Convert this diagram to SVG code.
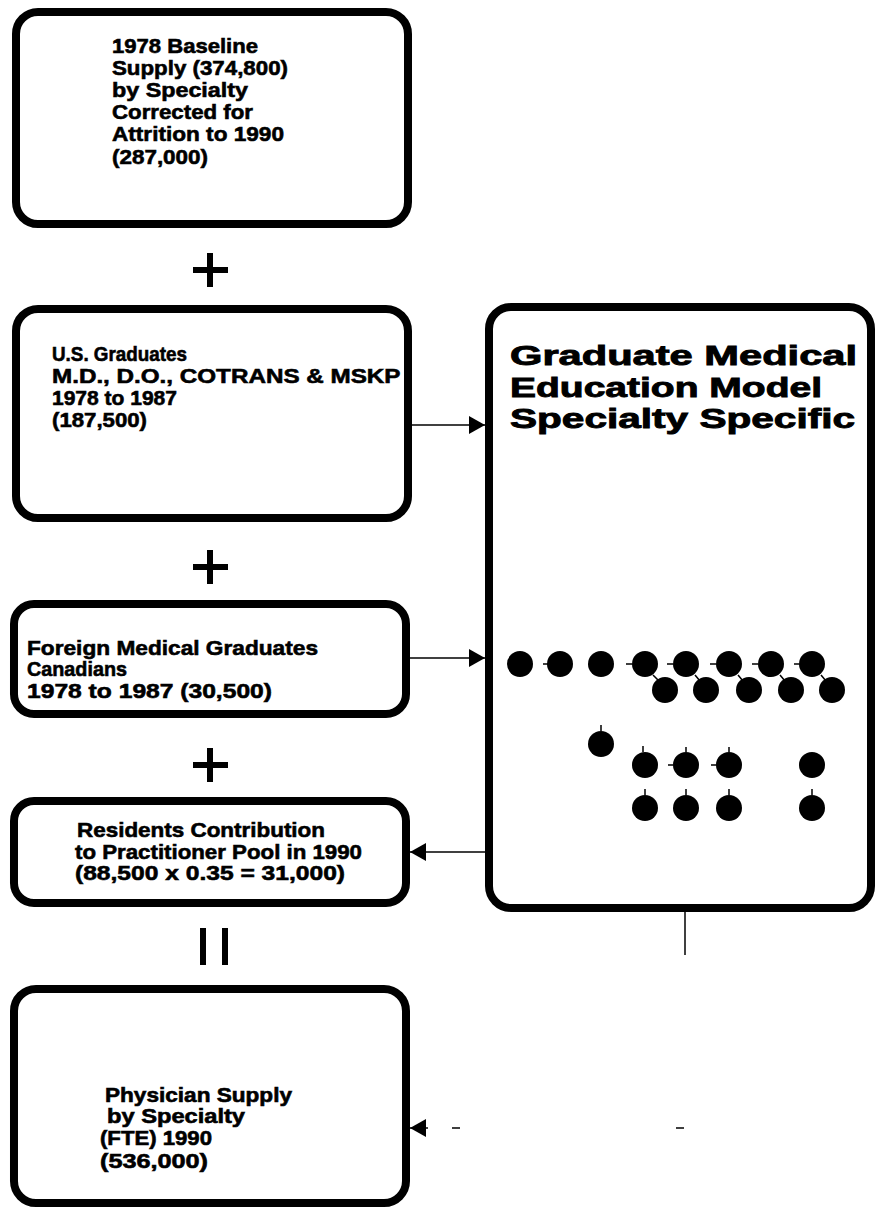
<svg xmlns="http://www.w3.org/2000/svg" width="876" height="1209" viewBox="0 0 876 1209">
  <style>
    .box { fill: #ffffff; stroke: #000000; stroke-width: 8; }
    .lbl { font-family: "Liberation Sans", Arial, sans-serif; font-weight: bold; fill: #000000; stroke: #000000; stroke-width: 0.6; }
    .big { font-size: 28px; stroke-width: 0.9; }
    .op { stroke: #000000; stroke-width: 6; fill: none; }
    .wire { stroke: #000000; stroke-width: 1.5; fill: none; }
    .tick { stroke: #000000; stroke-width: 1.5; fill: none; }
    .dot { fill: #000000; }
  </style>
  <defs>
    <marker id="head" viewBox="0 0 16 18" refX="16" refY="9" markerWidth="16" markerHeight="18" markerUnits="userSpaceOnUse" orient="auto">
      <path d="M0,0 L16,9 L0,18 Z" fill="#000000"/>
    </marker>
  </defs>
  <rect width="876" height="1209" fill="#ffffff"/>

  <!-- baseline supply -->
  <g id="baseline">
    <rect class="box" x="16" y="12" width="392" height="212" rx="22"/>
    <text class="lbl" font-size="21">
      <tspan x="112" y="53" textLength="146" lengthAdjust="spacingAndGlyphs">1978 Baseline</tspan>
      <tspan x="112" y="75" textLength="176" lengthAdjust="spacingAndGlyphs">Supply (374,800)</tspan>
      <tspan x="112" y="97" textLength="136" lengthAdjust="spacingAndGlyphs">by Specialty</tspan>
      <tspan x="112" y="119" textLength="141" lengthAdjust="spacingAndGlyphs">Corrected for</tspan>
      <tspan x="112" y="141" textLength="172" lengthAdjust="spacingAndGlyphs">Attrition to 1990</tspan>
      <tspan x="112" y="164" textLength="96" lengthAdjust="spacingAndGlyphs">(287,000)</tspan>
    </text>
  </g>

  <!-- operators between the stacked boxes -->
  <g id="operators">
    <path class="op" d="M210,253 V287 M193,270 H228"/>
    <path class="op" d="M210,550 V584 M193,567 H228"/>
    <path class="op" d="M210,748 V782 M193,765 H228"/>
    <path class="op" d="M203,928 V965 M225,928 V965"/>
  </g>

  <!-- U.S. graduates -->
  <g id="us-graduates">
    <rect class="box" x="16" y="309" width="392" height="209" rx="22"/>
    <text class="lbl" font-size="21">
      <tspan x="52" y="361" textLength="135" lengthAdjust="spacingAndGlyphs">U.S. Graduates</tspan>
      <tspan x="52" y="383" textLength="348" lengthAdjust="spacingAndGlyphs">M.D., D.O., COTRANS &amp; MSKP</tspan>
      <tspan x="52" y="405" textLength="125" lengthAdjust="spacingAndGlyphs">1978 to 1987</tspan>
      <tspan x="52" y="427" textLength="95" lengthAdjust="spacingAndGlyphs">(187,500)</tspan>
    </text>
  </g>

  <!-- foreign medical graduates -->
  <g id="foreign-graduates">
    <rect class="box" x="14" y="604" width="392" height="110" rx="20"/>
    <text class="lbl" font-size="21">
      <tspan x="27" y="655" textLength="291" lengthAdjust="spacingAndGlyphs">Foreign Medical Graduates</tspan>
      <tspan x="27" y="676" textLength="100" lengthAdjust="spacingAndGlyphs">Canadians</tspan>
      <tspan x="27" y="698" textLength="245" lengthAdjust="spacingAndGlyphs">1978 to 1987 (30,500)</tspan>
    </text>
  </g>

  <!-- residents contribution -->
  <g id="residents">
    <rect class="box" x="14" y="801" width="392" height="102" rx="20"/>
    <text class="lbl" font-size="21">
      <tspan x="77" y="837" textLength="248" lengthAdjust="spacingAndGlyphs">Residents Contribution</tspan>
      <tspan x="75" y="859" textLength="287" lengthAdjust="spacingAndGlyphs">to Practitioner Pool in 1990</tspan>
      <tspan x="75" y="880" textLength="270" lengthAdjust="spacingAndGlyphs">(88,500 x 0.35 = 31,000)</tspan>
    </text>
  </g>

  <!-- physician supply result -->
  <g id="physician-supply">
    <rect class="box" x="14" y="989" width="392" height="214" rx="22"/>
    <text class="lbl" font-size="20">
      <tspan x="105" y="1102" textLength="187" lengthAdjust="spacingAndGlyphs">Physician Supply</tspan>
      <tspan x="107" y="1123" textLength="138" lengthAdjust="spacingAndGlyphs">by Specialty</tspan>
      <tspan x="100" y="1145" textLength="112" lengthAdjust="spacingAndGlyphs">(FTE) 1990</tspan>
      <tspan x="100" y="1168" textLength="108" lengthAdjust="spacingAndGlyphs">(536,000)</tspan>
    </text>
  </g>

  <!-- graduate medical education model -->
  <g id="gme-model">
    <rect class="box" x="489" y="307" width="382" height="601" rx="22"/>
    <text class="lbl big">
      <tspan x="510" y="365" textLength="347" lengthAdjust="spacingAndGlyphs">Graduate Medical</tspan>
      <tspan x="510" y="396.5" textLength="312" lengthAdjust="spacingAndGlyphs">Education Model</tspan>
      <tspan x="510" y="428" textLength="345" lengthAdjust="spacingAndGlyphs">Specialty Specific</tspan>
    </text>
    <!-- specialty network -->
    <g class="tick">
      <path d="M543,664 H548 M626,664 H632 M667,664 H673 M710,664 H716 M752,664 H758 M794,664 H799"/>
      <path d="M653,675 L659,681 M695,675 L700,681 M738,675 L743,681 M780,675 L785,681 M821,675 L826,681"/>
      <path d="M601,725 V731 M643,746 V752 M686,747 V752 M729,747 V752 M645,789 V795 M686,789 V795 M729,789 V795 M812,789 V795"/>
      <path d="M668,765 H673 M711,765 H716"/>
    </g>
    <g class="dot">
      <circle cx="520" cy="664" r="13"/>
      <circle cx="560" cy="664" r="13"/>
      <circle cx="601" cy="664" r="13"/>
      <circle cx="645" cy="664" r="13"/>
      <circle cx="686" cy="664" r="13"/>
      <circle cx="729" cy="664" r="13"/>
      <circle cx="771" cy="664" r="13"/>
      <circle cx="812" cy="664" r="13"/>
      <circle cx="665" cy="690" r="13"/>
      <circle cx="706" cy="690" r="13"/>
      <circle cx="749" cy="690" r="13"/>
      <circle cx="791" cy="690" r="13"/>
      <circle cx="832" cy="690" r="13"/>
      <circle cx="601" cy="744" r="13"/>
      <circle cx="645" cy="765" r="13"/>
      <circle cx="686" cy="765" r="13"/>
      <circle cx="729" cy="765" r="13"/>
      <circle cx="812" cy="765" r="13"/>
      <circle cx="645" cy="808" r="13"/>
      <circle cx="686" cy="808" r="13"/>
      <circle cx="729" cy="808" r="13"/>
      <circle cx="812" cy="808" r="13"/>
    </g>
  </g>

  <!-- connectors -->
  <g id="connectors">
    <path class="wire" d="M412,425 H485" marker-end="url(#head)"/>
    <path class="wire" d="M410,658 H485" marker-end="url(#head)"/>
    <path class="wire" d="M485,852 H410" marker-end="url(#head)"/>
    <path class="wire" d="M685,912 V955"/>
    <path class="wire" d="M684,1128 H676 M460,1128 H452"/>
    <path class="wire" d="M428,1128 H410" marker-end="url(#head)"/>
  </g>
</svg>
